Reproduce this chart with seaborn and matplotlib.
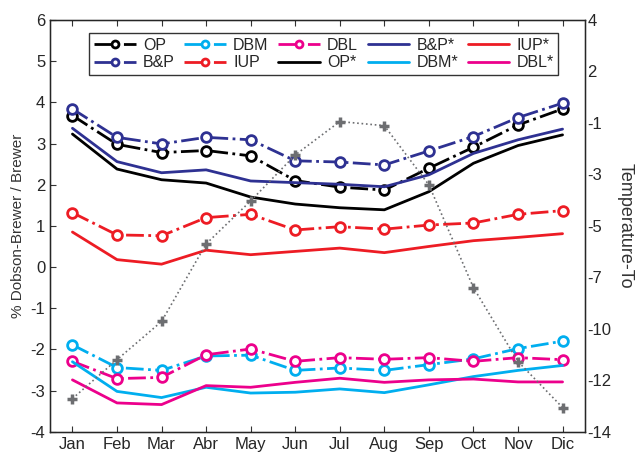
import numpy as np
import pandas as pd
import matplotlib
matplotlib.use('Agg')
import matplotlib.pyplot as plt
import seaborn as sns

months = ['Jan', 'Feb', 'Mar', 'Abr', 'May', 'Jun', 'Jul', 'Aug', 'Sep', 'Oct', 'Nov', 'Dic']
x = np.arange(1, 13)

# measured series (dash-dot with circles)
op = [3.68, 2.98, 2.78, 2.83, 2.70, 2.10, 1.94, 1.87, 2.40, 2.91, 3.45, 3.84]
bp = [3.84, 3.15, 2.99, 3.15, 3.09, 2.58, 2.55, 2.48, 2.82, 3.17, 3.63, 3.98]
dbm = [-1.89, -2.44, -2.51, -2.16, -2.14, -2.51, -2.45, -2.51, -2.37, -2.23, -1.98, -1.80]
iup = [1.32, 0.78, 0.76, 1.20, 1.28, 0.90, 0.98, 0.92, 1.02, 1.07, 1.28, 1.37]
dbl = [-2.29, -2.71, -2.68, -2.13, -1.99, -2.29, -2.20, -2.24, -2.20, -2.29, -2.20, -2.25]

# starred series (solid)
op_s = [3.23, 2.38, 2.12, 2.04, 1.70, 1.53, 1.44, 1.39, 1.83, 2.52, 2.95, 3.21]
bp_s = [3.37, 2.56, 2.29, 2.36, 2.09, 2.05, 2.01, 1.95, 2.24, 2.76, 3.09, 3.35]
dbm_s = [-2.30, -3.02, -3.17, -2.92, -3.06, -3.04, -2.96, -3.05, -2.86, -2.66, -2.51, -2.39]
iup_s = [0.85, 0.18, 0.07, 0.41, 0.30, 0.38, 0.46, 0.35, 0.50, 0.64, 0.72, 0.81]
dbl_s = [-2.74, -3.30, -3.34, -2.88, -2.92, -2.80, -2.70, -2.80, -2.74, -2.72, -2.79, -2.79]

# temperature (right axis)
temp = [-12.55, -10.85, -9.18, -5.79, -3.91, -1.90, -0.44, -0.62, -3.21, -7.70, -10.93, -12.94]
temp_ticks = [4, 2, -1, -3, -5, -7, -10, -12, -14]

c_op = '#000000'
c_bp = '#2e3192'
c_dbm = '#00aeef'
c_iup = '#ed1c24'
c_dbl = '#ec008c'
c_temp = '#6d6e71'

sns.set_style('ticks')
plt.rcParams['font.family'] = ['Liberation Sans', 'DejaVu Sans']
plt.rcParams['axes.unicode_minus'] = False

fig, ax = plt.subplots(figsize=(6.35, 4.54), dpi=100)
fig.subplots_adjust(left=0.079, right=0.921, bottom=0.049, top=0.956)

mk = dict(marker='o', markersize=7, markerfacecolor='white', markeredgewidth=2, linewidth=2, linestyle='-.')
handles = {}
for name, vals, col in [('OP', op, c_op), ('B&P', bp, c_bp), ('DBM', dbm, c_dbm),
                        ('IUP', iup, c_iup), ('DBL', dbl, c_dbl)]:
    sns.lineplot(x=x, y=vals, ax=ax, color=col, markeredgecolor=col, **mk)
    handles[name] = ax.get_lines()[-1]

for name, vals, col in [('OP*', op_s, c_op), ('B&P*', bp_s, c_bp), ('DBM*', dbm_s, c_dbm),
                        ('IUP*', iup_s, c_iup), ('DBL*', dbl_s, c_dbl)]:
    sns.lineplot(x=x, y=vals, ax=ax, color=col, linewidth=2)
    handles[name] = ax.get_lines()[-1]

ax.set_xlim(0.5, 12.5)
ax.set_ylim(-4, 6)
ax.set_xticks(x)
ax.set_xticklabels(months)
ax.set_yticks(np.arange(-4, 7, 1))
ax.tick_params(direction='in', top=True, right=True, labelsize=12, length=4, color='#333333')
ax.set_ylabel('% Dobson-Brewer / Brewer', fontsize=11, color='#333333')
for s in ax.spines.values():
    s.set_color('black')
    s.set_linewidth(1)

ax2 = ax.twinx()
sns.lineplot(x=x, y=temp, ax=ax2, color=c_temp, linestyle=':', linewidth=1.2,
             marker='+', markersize=7, markeredgewidth=2.5, markeredgecolor=c_temp)
ax2.set_ylim(-14, 4)
ax2.set_yticks(np.linspace(4, -14, len(temp_ticks)))
ax2.set_yticklabels([str(t) for t in temp_ticks])
ax2.tick_params(length=0, labelsize=12, pad=2)
ax2.set_ylabel('Temperature-To', fontsize=13, rotation=270, labelpad=16, color='#333333')

order = ['OP', 'B&P', 'DBM', 'IUP', 'DBL', 'OP*', 'B&P*', 'DBM*', 'IUP*', 'DBL*']
leg = ax2.legend([handles[k] for k in order], order, ncol=5, loc='upper center',
                 bbox_to_anchor=(0.512, 0.968), fontsize=11.5, frameon=True, fancybox=False,
                 handlelength=2.6, columnspacing=0.6, handletextpad=0.45, borderpad=0.3,
                 labelspacing=0.15, borderaxespad=0)
leg.get_frame().set_edgecolor('black')
leg.get_frame().set_linewidth(1)
for h in leg.legend_handles:
    h.set_markersize(5)

fig.savefig('out.png', dpi=100)
